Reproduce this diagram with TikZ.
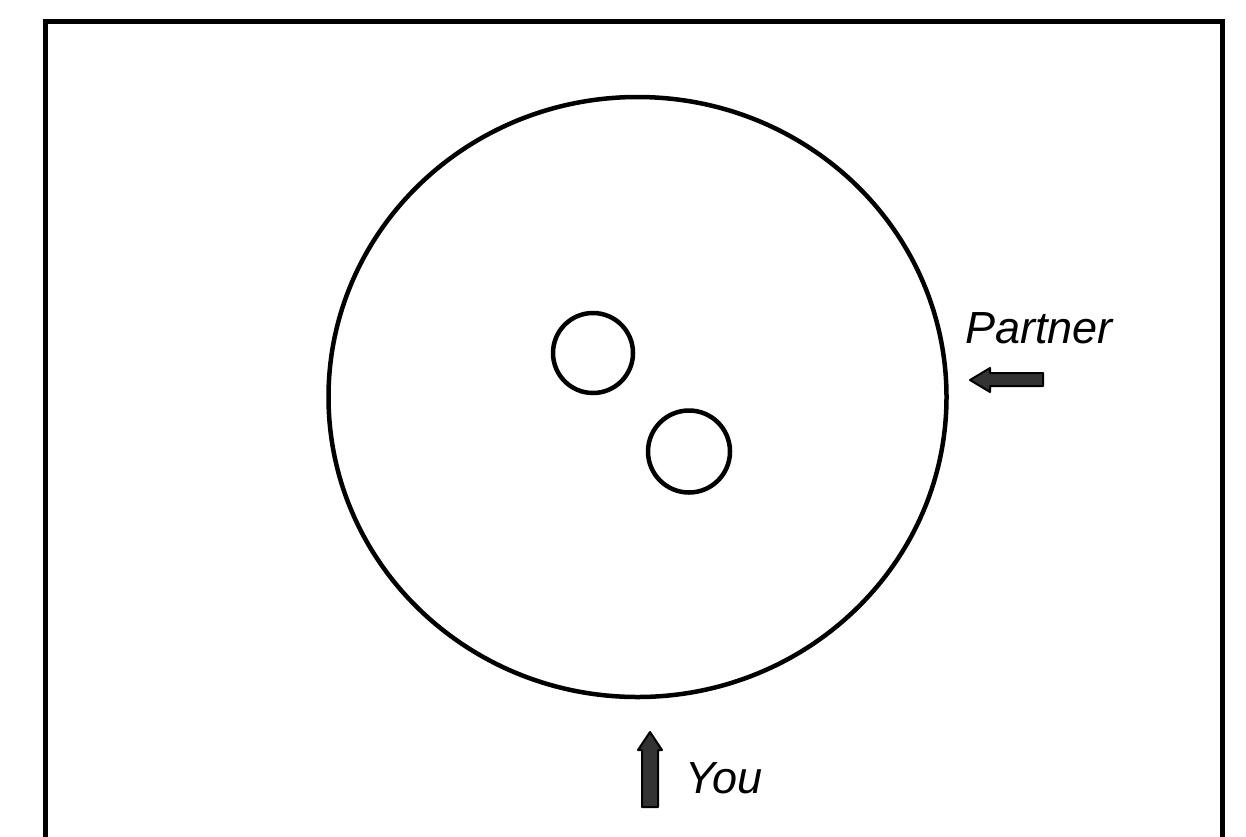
\documentclass[tikz,border=0pt]{standalone}
\usepackage{fontspec}
\setmainfont{Liberation Sans}
\usetikzlibrary{shapes.geometric}
\begin{document}
\begin{tikzpicture}[x=1pt,y=-1pt,
  frameline/.style={line width=5pt,line cap=rect},
  ring/.style={line width=4.5pt},
  fatarrow/.style={fill=black!80,draw=black,line width=2pt,line join=round},
  lbl/.style={font=\fontsize{45}{54}\selectfont\itshape,inner sep=0pt,anchor=base west}]
\useasboundingbox (0,0) rectangle (1246,836);
\fill[white] (0,0) rectangle (1246,836);
% frame (open at the bottom)
\draw[frameline] (45,840) -- (45,21) -- (1222,21) -- (1222,840);
% table
\node[draw,ring,ellipse,minimum width=618pt,minimum height=600pt,inner sep=0pt] (table) at (637.5,397) {};
\node[draw,ring,circle,minimum size=80pt,inner sep=0pt] (ball1) at (593,353) {};
\node[draw,ring,circle,minimum size=82pt,inner sep=0pt] (ball2) at (689,451.5) {};
% labels
\node[lbl] (partner) at (965,343) {Partner};
\node[lbl] (you) at (685,793) {You};
% arrows
\coordinate (pa) at (970,380);
\draw[fatarrow] (pa) -- (990,368) -- (990,373) -- (1043,373) -- (1043,386) -- (990,386) -- (990,392) -- cycle;
\coordinate (ya) at (650,732);
\draw[fatarrow] (ya) -- (662,750) -- (658,750) -- (658,807) -- (642,807) -- (642,750) -- (638,750) -- cycle;
\end{tikzpicture}
\end{document}
